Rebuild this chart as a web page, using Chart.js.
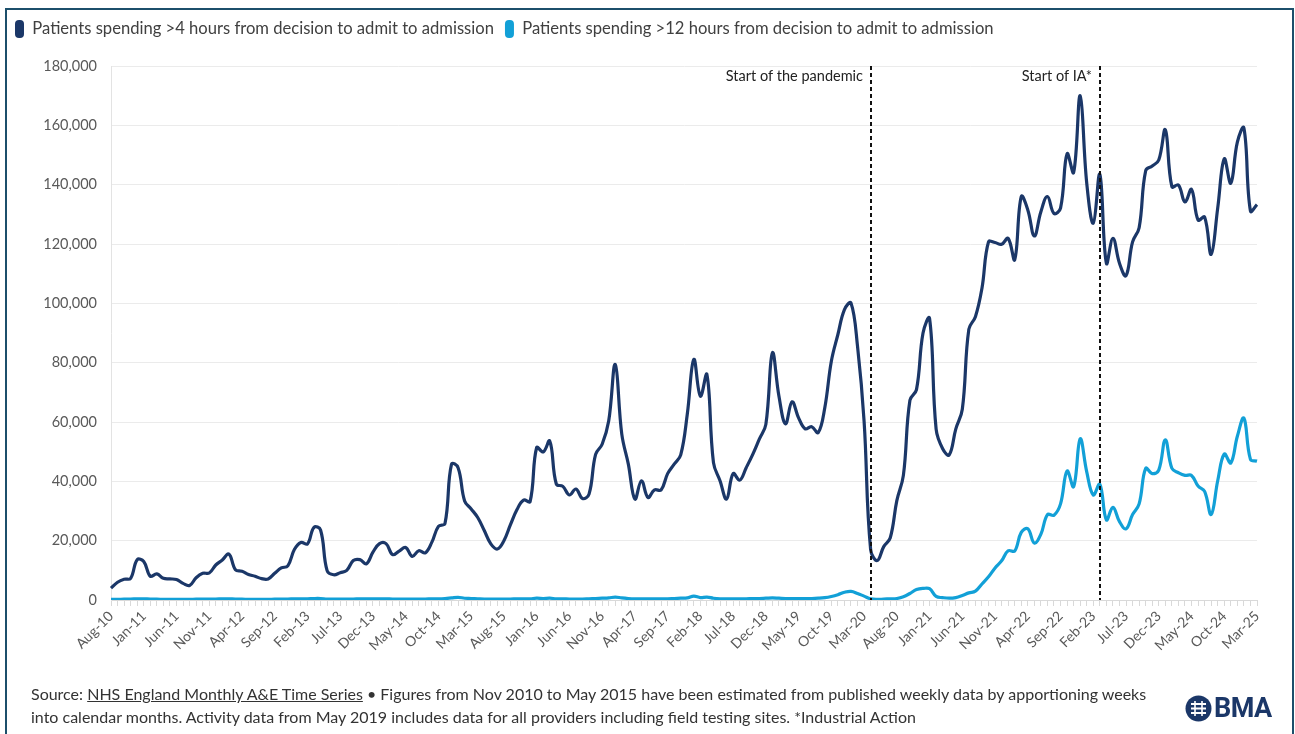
<!DOCTYPE html>
<html>
<head>
<meta charset="utf-8">
<script src="https://cdn.jsdelivr.net/npm/chart.js@4.4.1/dist/chart.umd.min.js"></script>
<style>
  body { margin: 0; background: #fff; font-family: Lato, "Open Sans", sans-serif; }
  #wrap { position: relative; width: 1295px; height: 734px; overflow: hidden; background: #fff; }
  #frame { position: absolute; left: 5px; top: 8px; width: 1289px; height: 760px; border: 2px solid #1c4f6b; box-sizing: border-box; pointer-events: none; }
  #chart { position: absolute; left: 0; top: 0; }
  .note { position: absolute; left: 31px; top: 682px; font-size: 16px; line-height: 23px; color: #333; white-space: nowrap; }
  .logo { position: absolute; left: 1185px; top: 693px; height: 30px; display: flex; align-items: center; color: #1b3768; font-family: Roboto, Arial, sans-serif; font-weight: 700; font-size: 27px; letter-spacing: -0.5px; }
  .logo svg { margin-right: 2px; }
</style>
</head>
<body>
<div id="wrap">
  <canvas id="chart" width="1295" height="680"></canvas>
  <div id="frame"></div>
  <div class="note">Source: <u>NHS England Monthly A&amp;E Time Series</u> • Figures from Nov 2010 to May 2015 have been estimated from published weekly data by apportioning weeks<br>into calendar months. Activity data from May 2019 includes data for all providers including field testing sites. *Industrial Action</div>
  <div class="logo">
    <svg width="27" height="27" viewBox="0 0 27 27">
      <circle cx="13.5" cy="13.5" r="13" fill="#1b3768"/>
      <path d="M6 9h15M6 13.5h15M6 18h15" stroke="#fff" stroke-width="1.8" fill="none"/>
      <path d="M10 6v15M17 6v15" stroke="#fff" stroke-width="1.6" fill="none"/>
    </svg>BMA
  </div>
</div>
<script>
// monthly series, Aug 2010 to Mar 2025
const over4h = [
  4000, 6000, 7000, 7300, 13600, 13000, 8000, 8800, 7300, 7100,
  6900, 5600, 4900, 7500, 9000, 9100, 11800, 13500, 15500, 10200,
  9700, 8600, 8000, 7200, 7100, 9000, 10800, 11500, 17000, 19400,
  18900, 24500, 23600, 9900, 8500, 9200, 10000, 13300, 13600, 12200,
  16100, 19000, 19000, 15300, 16500, 17700, 14700, 16600, 15900, 19500,
  24800, 25800, 45800, 44600, 33400, 30700, 27800, 23400, 18900, 17200,
  20000, 25400, 30500, 33700, 33200, 51400, 49900, 53600, 39100, 38300,
  35400, 37400, 34200, 35700, 49100, 52500, 60300, 79400, 55900, 45800,
  34000, 40200, 34600, 37100, 37100, 42600, 45800, 48900, 62600, 81100,
  68700, 76000, 46300, 40200, 34000, 42600, 40400, 44600, 49100, 54200,
  59200, 83300, 68700, 59400, 66800, 61400, 57700, 58400, 56400, 64800,
  80500, 89500, 97900, 100100, 85500, 60300, 17000, 13300, 18000, 21000,
  33500, 42000, 67300, 70900, 90000, 94900, 57600, 51000, 48900, 57600,
  64300, 91300, 95500, 105100, 120700, 120500, 119900, 121900, 114700, 136000,
  131500, 122700, 130900, 136000, 130300, 132100, 150400, 144100, 170000, 140500,
  127000, 143500, 113500, 121900, 113500, 109300, 120700, 125500, 144700, 146300,
  148300, 158500, 139300, 139900, 134200, 138400, 128100, 129100, 116500, 132100,
  148700, 140500, 154300, 159100, 131100, 133300
];
const over12h = [
  200, 200, 300, 300, 400, 400, 300, 300, 200, 200,
  200, 200, 200, 300, 300, 300, 300, 400, 400, 300,
  300, 200, 200, 200, 200, 300, 300, 300, 400, 400,
  400, 500, 500, 300, 300, 300, 300, 300, 400, 400,
  400, 400, 400, 300, 300, 300, 300, 300, 300, 400,
  400, 500, 700, 900, 600, 500, 400, 300, 300, 300,
  300, 300, 400, 400, 400, 600, 500, 600, 400, 400,
  300, 300, 300, 400, 500, 600, 700, 1000, 700, 500,
  400, 400, 400, 400, 400, 400, 500, 600, 700, 1300,
  800, 1000, 600, 400, 400, 400, 400, 400, 500, 500,
  600, 700, 600, 500, 500, 500, 500, 500, 600, 800,
  1200, 1800, 2600, 2900, 2200, 1300, 400, 200, 300, 400,
  500, 1100, 2200, 3500, 3900, 3800, 1200, 800, 600, 800,
  1500, 2400, 3000, 5400, 7800, 10800, 13200, 16600, 16500, 22800,
  24000, 19200, 22200, 28800, 28600, 32400, 43500, 38200, 54300, 43200,
  35400, 39000, 27000, 31200, 26400, 24000, 28800, 32400, 44400, 42600,
  43800, 54000, 44400, 42900, 42000, 42000, 38400, 36600, 28800, 40200,
  49200, 46200, 55200, 61300, 47400, 46800
];

const seriesNames = [
  'Patients spending >4 hours from decision to admit to admission',
  'Patients spending >12 hours from decision to admit to admission'
];
const seriesColors = ['#1b3768', '#12a0d7'];

// month labels Aug-10 ... Mar-25, every 5th one is printed
const monthNames = ['Jan', 'Feb', 'Mar', 'Apr', 'May', 'Jun', 'Jul', 'Aug', 'Sep', 'Oct', 'Nov', 'Dec'];
const months = [];
for (let i = 0; i < over4h.length; i++) {
  const m = 7 + i;
  months.push(monthNames[m % 12] + '-' + (10 + Math.floor(m / 12)));
}

const events = [
  { month: 'Apr-20', text: 'Start of the pandemic' },
  { month: 'Mar-23', text: 'Start of IA*' }
];

const eventLines = {
  id: 'eventLines',
  afterDatasetsDraw(chart) {
    const ctx = chart.ctx;
    const area = chart.chartArea;
    const x = chart.scales.x;
    ctx.save();
    events.forEach(ev => {
      const px = Math.round(x.getPixelForValue(months.indexOf(ev.month)));
      ctx.beginPath();
      ctx.setLineDash([4, 3]);
      ctx.lineWidth = 2;
      ctx.strokeStyle = '#111';
      ctx.moveTo(px, area.top);
      ctx.lineTo(px, area.bottom);
      ctx.stroke();
      ctx.setLineDash([]);
      ctx.fillStyle = '#222';
      ctx.font = '14.5px Lato, "Open Sans", sans-serif';
      ctx.textAlign = 'right';
      ctx.textBaseline = 'middle';
      ctx.fillText(ev.text, px - 8, area.top + 10);
    });
    ctx.restore();
  }
};

// fixed legend height so the plot starts at the same place
const legendHeight = {
  id: 'legendHeight',
  afterInit(chart) {
    const fit = chart.legend.fit;
    chart.legend.fit = function () {
      fit.call(this);
      this.height = 57;
    };
  }
};

new Chart(document.getElementById('chart'), {
  type: 'line',
  data: {
    labels: months,
    datasets: [
      {
        label: seriesNames[0],
        data: over4h,
        borderColor: seriesColors[0],
        backgroundColor: seriesColors[0],
        borderWidth: 3.2,
        pointRadius: 0,
        tension: 0.4
      },
      {
        label: seriesNames[1],
        data: over12h,
        borderColor: seriesColors[1],
        backgroundColor: seriesColors[1],
        borderWidth: 3.2,
        pointRadius: 0,
        tension: 0.4
      }
    ]
  },
  options: {
    responsive: false,
    animation: false,
    layout: { padding: { top: 9, left: 4, right: 38, bottom: 0 } },
    plugins: {
      tooltip: { enabled: false },
      legend: {
        position: 'top',
        align: 'start',
        labels: {
          boxWidth: 9,
          boxHeight: 18,
          useBorderRadius: true,
          borderRadius: 4,
          padding: 11,
          color: '#404040',
          font: { family: 'Lato, "Open Sans", sans-serif', size: 16.6 },
          generateLabels(chart) {
            const items = Chart.defaults.plugins.legend.labels.generateLabels(chart);
            items.forEach(it => { it.lineWidth = 0; });
            return items;
          }
        }
      }
    },
    scales: {
      x: {
        afterFit(scale) { scale.height = 80; },
        grid: { drawOnChartArea: false, drawTicks: true, tickLength: 6, color: '#d9d9d9' },
        border: { color: '#d9d9d9' },
        ticks: {
          autoSkip: false,
          minRotation: 45,
          maxRotation: 45,
          padding: 2,
          color: '#595959',
          font: { family: 'Lato, "Open Sans", sans-serif', size: 14 },
          callback(value, index) {
            return index % 5 === 0 ? months[index] : '';
          }
        }
      },
      y: {
        min: 0,
        max: 180000,
        afterFit(scale) { scale.width = 107; },
        grid: { color: '#ebebeb', drawTicks: false },
        border: { color: '#e3e3e3' },
        ticks: {
          stepSize: 20000,
          padding: 14,
          color: '#595959',
          font: { family: 'Lato, "Open Sans", sans-serif', size: 14.5 },
          callback(v) { return v.toLocaleString('en-GB'); }
        }
      }
    }
  },
  plugins: [legendHeight, eventLines]
});
</script>
</body>
</html>
